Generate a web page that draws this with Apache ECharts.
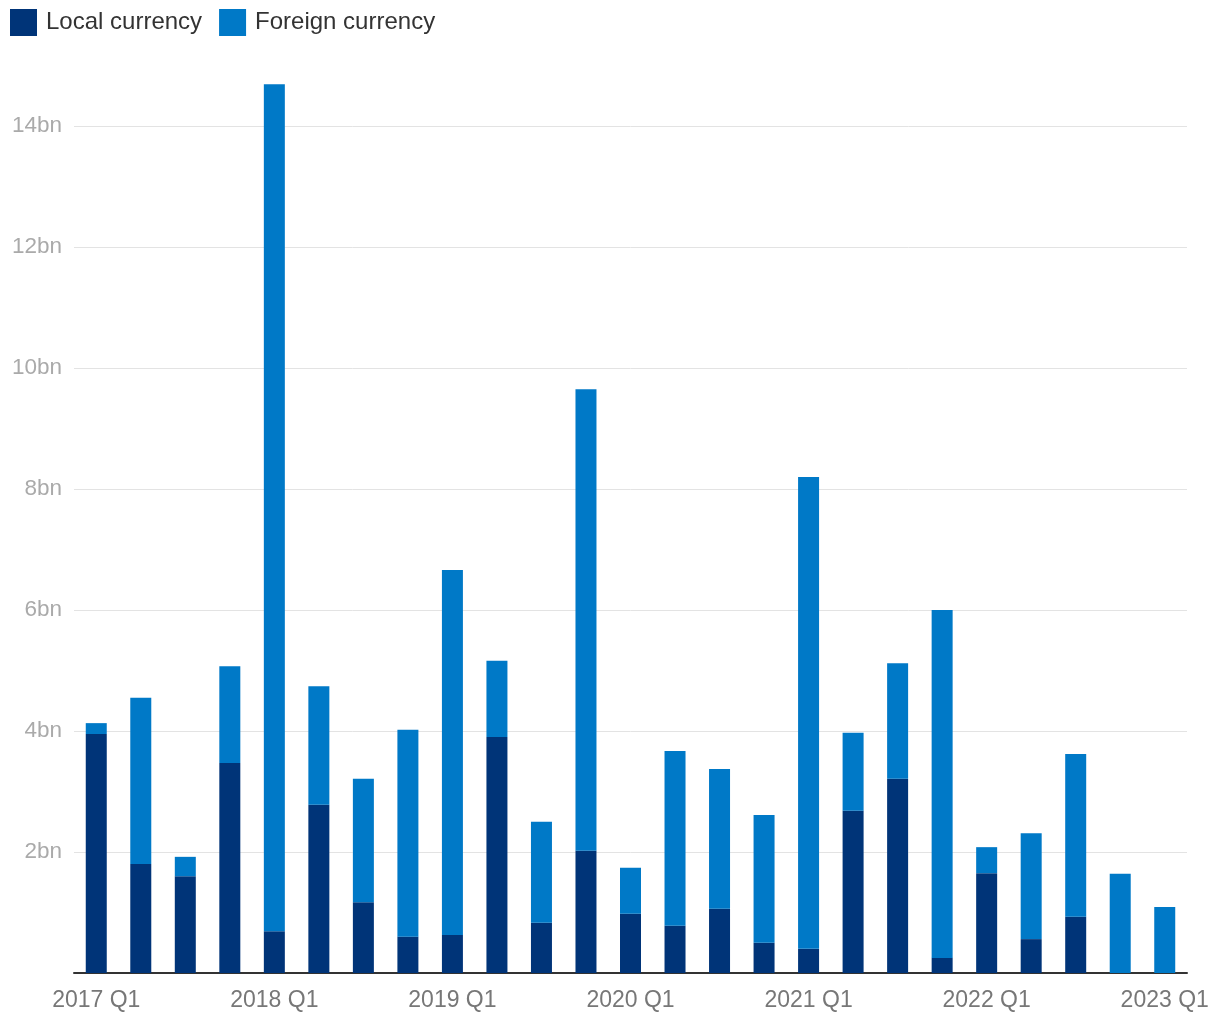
<!DOCTYPE html>
<html>
<head>
<meta charset="utf-8">
<script src="https://cdn.jsdelivr.net/npm/echarts@6/dist/echarts.min.js"></script>
<style>html,body{margin:0;padding:0;background:#fff}#c{width:1220px;height:1020px}</style>
</head>
<body>
<div id="c"></div>
<script>
const categories = ['2017 Q1','2017 Q2','2017 Q3','2017 Q4','2018 Q1','2018 Q2','2018 Q3','2018 Q4','2019 Q1','2019 Q2','2019 Q3','2019 Q4','2020 Q1','2020 Q2','2020 Q3','2020 Q4','2021 Q1','2021 Q2','2021 Q3','2021 Q4','2022 Q1','2022 Q2','2022 Q3','2022 Q4','2023 Q1'];
const localCurrency = [3.95,1.80,1.60,3.47,0.69,2.78,1.17,0.60,0.63,3.90,0.83,2.02,0.98,0.78,1.06,0.50,0.40,2.68,3.21,0.25,1.65,0.56,0.93,0,0];
const foreignCurrency = [0.18,2.75,0.32,1.60,14.00,1.96,2.04,3.42,6.03,1.26,1.67,7.63,0.76,2.89,2.31,2.11,7.80,1.29,1.91,5.75,0.43,1.75,2.69,1.64,1.09];

const chart = echarts.init(document.getElementById('c'));
const font = 'Liberation Sans, Arial, Helvetica, sans-serif';
chart.setOption({
  animation: false,
  textStyle: {fontFamily: font},
  legend: {
    left: 5, top: 4, itemWidth: 27, itemHeight: 27, itemGap: 17,
    icon: 'rect',
    textStyle: {fontSize: 24, color: '#333', fontFamily: font, padding: [0,0,0,4]},
    data: ['Local currency','Foreign currency']
  },
  grid: {left: 74, right: 33, top: 5, bottom: 47, containLabel: false},
  xAxis: {
    type: 'category', data: categories,
    axisLine: {lineStyle: {color: '#333', width: 2}},
    axisTick: {show: false},
    axisLabel: {interval: 3, color: '#777', fontSize: 23, margin: 16, fontFamily: font}
  },
  yAxis: {
    type: 'value', min: 0, max: 16, interval: 2,
    axisLine: {show: false}, axisTick: {show: false},
    axisLabel: {showMaxLabel: false, color: '#aaa', fontSize: 22.5, margin: 12, fontFamily: font,
      formatter: v => v === 0 ? '' : v + 'bn'},
    splitLine: {showMaxLine: false, lineStyle: {color: '#e3e3e3', width: 1}}
  },
  series: [
    {name: 'Local currency', type: 'bar', stack: 'a', data: localCurrency, barWidth: 21, itemStyle: {color: '#003478'}},
    {name: 'Foreign currency', type: 'bar', stack: 'a', data: foreignCurrency, barWidth: 21, itemStyle: {color: '#0079c7'}}
  ]
});
</script>
</body>
</html>
